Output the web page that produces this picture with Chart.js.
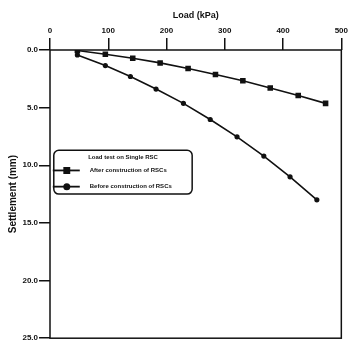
<!DOCTYPE html>
<html>
<head>
<meta charset="utf-8">
<script src="https://cdn.jsdelivr.net/npm/chart.js@4/dist/chart.umd.min.js"></script>
<style>
    html, body { margin: 0; padding: 0; background: #fff; }
    #wrap { width: 350px; height: 344px; }
</style>
</head>
<body>
<div id="wrap"><canvas id="chart" width="350" height="344"></canvas></div>
<script>
// Data
const loadAfter = [47, 95, 142, 189, 237, 284, 331, 378, 426, 473];
const settleAfter = [0.05, 0.37, 0.72, 1.12, 1.61, 2.13, 2.67, 3.30, 3.94, 4.63];
const loadBefore = [47, 95, 138, 182, 229, 275, 321, 367, 412, 458];
const settleBefore = [0.43, 1.35, 2.30, 3.39, 4.63, 6.03, 7.53, 9.20, 11.0, 13.0];
const seriesNames = ["After construction of RSCs", "Before construction of RSCs"];
const legendTitle = "Load test on Single RSC";
const xTitle = "Load (kPa)";
const yTitle = "Settlement (mm)";

const FONT = "'Liberation Sans', Arial, sans-serif";

// Frame round the plot
const framePlugin = {
    id: "frame",
    afterDatasetsDraw(chart) {
        const a = chart.chartArea, ctx = chart.ctx;
        ctx.save();
        ctx.strokeStyle = "#111";
        ctx.lineWidth = 1.5;
        ctx.strokeRect(a.left, a.top, a.right - a.left, a.bottom - a.top);
        ctx.restore();
    }
};

// Legend box drawn inside the plot
const boxLegend = {
    id: "boxLegend",
    afterDraw(chart) {
        const a = chart.chartArea, ctx = chart.ctx;
        const w = a.right - a.left, h = a.bottom - a.top;
        const x = a.left + w * 0.013, y = a.top + h * 0.348;
        const bw = w * 0.475, bh = h * 0.152;
        ctx.save();
        ctx.fillStyle = "#fff";
        ctx.strokeStyle = "#111";
        ctx.lineWidth = 1.5;
        ctx.beginPath();
        ctx.roundRect(x, y, bw, bh, 5);
        ctx.fill();
        ctx.stroke();
        ctx.fillStyle = "#111";
        ctx.font = "bold 6px " + FONT;
        ctx.textAlign = "center";
        ctx.textBaseline = "middle";
        ctx.fillText(legendTitle, x + bw / 2, y + bh * 0.15);
        chart.data.datasets.forEach((ds, i) => {
            const ry = y + bh * (0.46 + i * 0.37);
            ctx.strokeStyle = "#111";
            ctx.lineWidth = 1.8;
            ctx.beginPath();
            ctx.moveTo(x - 1, ry);
            ctx.lineTo(x + 26, ry);
            ctx.stroke();
            Chart.helpers.drawPoint(ctx, {
                pointStyle: ds.pointStyle, radius: ds.pointRadius + 0.8, rotation: 0, borderWidth: 1
            }, x + 13, ry);
            ctx.fillStyle = "#111";
            ctx.font = "bold 6px " + FONT;
            ctx.textAlign = "left";
            ctx.fillText(ds.label, x + 36, ry);
        });
        ctx.restore();
    }
};

new Chart(document.getElementById("chart"), {
    type: "line",
    data: {
        datasets: [
            {
                label: seriesNames[0],
                data: loadAfter.map((v, i) => ({ x: v, y: settleAfter[i] })),
                borderColor: "#111", backgroundColor: "#111",
                borderWidth: 1.6, pointStyle: "rect", pointRadius: 2.8,
                tension: 0
            },
            {
                label: seriesNames[1],
                data: loadBefore.map((v, i) => ({ x: v, y: settleBefore[i] })),
                borderColor: "#111", backgroundColor: "#111",
                borderWidth: 1.6, pointStyle: "circle", pointRadius: 1.8,
                tension: 0
            }
        ]
    },
    options: {
        responsive: false,
        animation: false,
        layout: { padding: { top: 10, right: 0, bottom: 4, left: 7 } },
        plugins: { legend: { display: false }, tooltip: { enabled: false } },
        scales: {
            x: {
                type: "linear", position: "top", min: 0, max: 500,
                afterFit(s) { s.height = 40; },
                ticks: { stepSize: 100, color: "#111", padding: 2, font: { family: FONT, size: 8, weight: "bold" } },
                grid: { display: true, drawOnChartArea: false, tickLength: 12, color: "#111", lineWidth: 1.5 },
                border: { display: false },
                title: { display: true, text: xTitle, color: "#111", padding: { top: 0, bottom: 1 }, font: { family: FONT, size: 9, weight: "bold" } }
            },
            y: {
                type: "linear", reverse: true, min: 0, max: 25,
                afterFit(s) { s.width = 43; },
                ticks: { stepSize: 5, color: "#111", padding: 1, callback: v => v.toFixed(1), font: { family: FONT, size: 8, weight: "bold" } },
                grid: { display: true, drawOnChartArea: false, tickLength: 11, color: "#111", lineWidth: 1.5 },
                border: { display: false },
                title: { display: true, text: yTitle, color: "#111", padding: { top: 0, bottom: 2 }, font: { family: FONT, size: 10, weight: "bold" } }
            }
        }
    },
    plugins: [framePlugin, boxLegend]
});
</script>
</body>
</html>
